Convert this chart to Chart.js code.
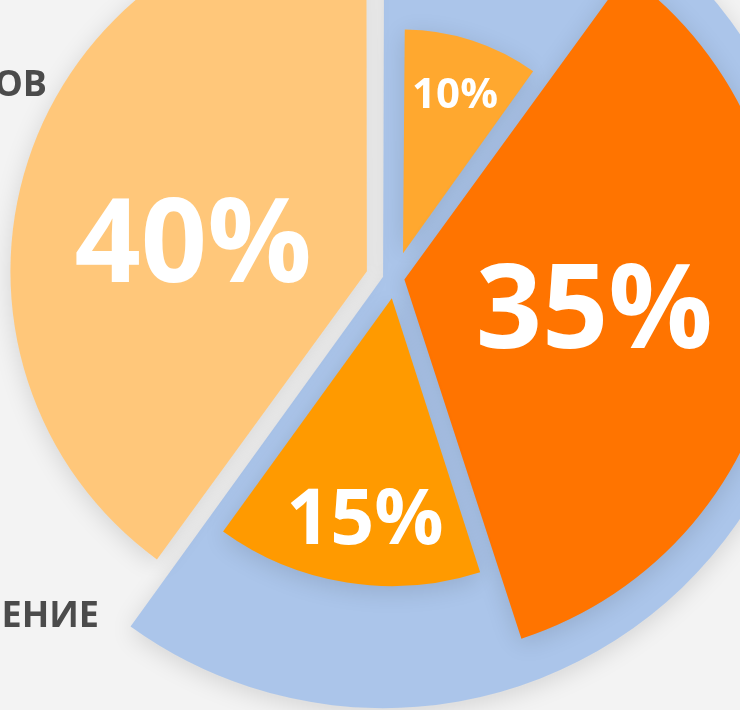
<!DOCTYPE html>
<html>
<head>
<meta charset="utf-8">
<script src="https://cdn.jsdelivr.net/npm/chart.js"></script>
<style>
  html, body { margin: 0; padding: 0; }
  body { width: 740px; height: 710px; overflow: hidden; position: relative; background: #f3f3f3; }
  .layer { position: absolute; width: 1000px; height: 1000px; }
  #groupWrap { left: -125px; top: -226px; }
  #detailWrap { left: -105px; top: -222px; }
</style>
</head>
<body>
<div class="layer" id="groupWrap"><canvas id="groupChart"></canvas></div>
<div class="layer" id="detailWrap"><canvas id="detailChart"></canvas></div>
<script>
// clockwise from the top
const groupNames = ['ЕНИЕ', 'ОВ'];
const groupShares = [60, 40];
const detailShares = [10, 35, 15];

const groupColors = ['#abc5ea', '#ffc77a'];
const detailColors = ['#ffa82f', '#ff7400', '#ff9a00', 'rgba(0,0,0,0)'];

// outer radius per slice (px) and explode offset (chart.js divides it by 4)
const groupRadius = [423, 353];
const groupOffset = [34, 34];
const detailRadius = [213, 376, 284, 1];
const detailOffset = [104, 38, 82, 0];

// label: font size, distance as part of radius, turn off the mid angle (deg)
const groupLabelStyle = [null, { size: 116, at: 0.5, turn: -8 }];
const detailLabelStyle = [
  { size: 42, at: 0.79, turn: 0 },
  { size: 116, at: 0.51, turn: -1 },
  { size: 77, at: 0.776, turn: -2 },
  null
];
// group names, relative to the pie centre (right edge, baseline)
const nameAnchors = [[-276, 353], [-328, -178]];

const FONT = '"Open Sans", "Noto Sans", sans-serif';

function radiusPlugin(radii) {
  return {
    id: 'sliceRadius',
    afterDatasetUpdate(chart, args) {
      args.meta.data.forEach((arc, i) => { arc.outerRadius = radii[i]; });
    }
  };
}

const shadowPlugin = {
  id: 'softShadow',
  beforeDatasetsDraw(chart) {
    const ctx = chart.ctx;
    ctx.save();
    ctx.shadowColor = 'rgba(0, 0, 0, 0.13)';
    ctx.shadowBlur = 24;
    ctx.shadowOffsetY = 5;
  },
  afterDatasetsDraw(chart) {
    chart.ctx.restore();
  }
};

function labelPlugin(styles) {
  return {
    id: 'pctLabels',
    afterDraw(chart) {
      const ctx = chart.ctx;
      const values = chart.data.datasets[0].data;
      chart.getDatasetMeta(0).data.forEach((arc, i) => {
        const st = styles[i];
        if (!st) return;
        const { x, y, startAngle, endAngle, outerRadius } = arc;
        const mid = (startAngle + endAngle) / 2;
        const off = (arc.options.offset || 0) / 4;
        const a = mid + st.turn * Math.PI / 180;
        const px = x + Math.cos(mid) * off + Math.cos(a) * outerRadius * st.at;
        const py = y + Math.sin(mid) * off + Math.sin(a) * outerRadius * st.at;
        ctx.save();
        ctx.font = '700 ' + st.size + 'px ' + FONT;
        ctx.fillStyle = '#ffffff';
        ctx.textAlign = 'center';
        ctx.textBaseline = 'alphabetic';
        ctx.fillText(values[i] + '%', px, py + st.size * 0.357);
        ctx.restore();
      });
    }
  };
}

const namePlugin = {
  id: 'groupNames',
  afterDraw(chart) {
    const ctx = chart.ctx;
    const cx = (chart.chartArea.left + chart.chartArea.right) / 2;
    const cy = (chart.chartArea.top + chart.chartArea.bottom) / 2;
    ctx.save();
    ctx.font = '700 36px ' + FONT;
    ctx.fillStyle = '#4b4b4b';
    ctx.textAlign = 'right';
    ctx.textBaseline = 'alphabetic';
    chart.data.labels.forEach((name, i) => {
      ctx.fillText(name, cx + nameAnchors[i][0], cy + nameAnchors[i][1]);
    });
    ctx.restore();
  }
};

const baseOptions = {
  responsive: true,
  maintainAspectRatio: false,
  animation: false,
  events: [],
  plugins: { legend: { display: false }, tooltip: { enabled: false } }
};

new Chart(document.getElementById('groupChart'), {
  type: 'pie',
  data: {
    labels: groupNames,
    datasets: [{
      data: groupShares,
      backgroundColor: groupColors,
      borderWidth: 0,
      offset: groupOffset
    }]
  },
  options: baseOptions,
  plugins: [radiusPlugin(groupRadius), shadowPlugin, labelPlugin(groupLabelStyle), namePlugin]
});

new Chart(document.getElementById('detailChart'), {
  type: 'pie',
  data: {
    labels: ['', '', '', ''],
    datasets: [{
      data: [...detailShares, groupShares[1]],
      backgroundColor: detailColors,
      borderWidth: 0,
      offset: detailOffset
    }]
  },
  options: baseOptions,
  plugins: [radiusPlugin(detailRadius), shadowPlugin, labelPlugin(detailLabelStyle)]
});
</script>
</body>
</html>
